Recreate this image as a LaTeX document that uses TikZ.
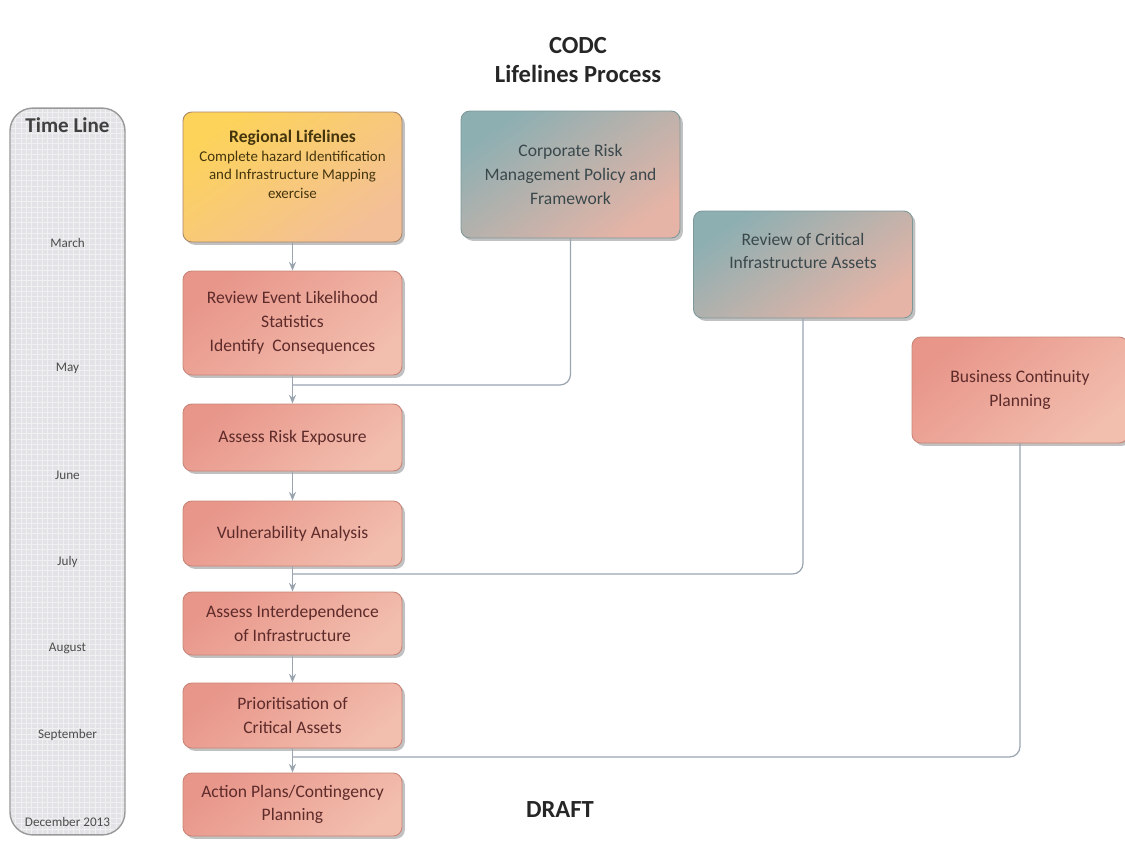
\documentclass[tikz,border=0pt]{standalone}
\usepackage{fontspec}
\setmainfont{Carlito}
\usepackage{tikz}
\usetikzlibrary{positioning, calc, arrows.meta, shadows, patterns}

\definecolor{yellowA}{HTML}{FDD35A}
\definecolor{yellowB}{HTML}{F3BF98}
\definecolor{redA}{HTML}{E8968A}
\definecolor{redB}{HTML}{F2BEAE}
\definecolor{redE}{HTML}{C98478}
\definecolor{tealA}{HTML}{8DAFB2}
\definecolor{tealB}{HTML}{E6B4A6}
\definecolor{tealE}{HTML}{7E9799}
\definecolor{textred}{HTML}{5E2B2B}
\definecolor{textteal}{HTML}{3A484C}
\definecolor{textyel}{HTML}{45360E}
\definecolor{linegray}{HTML}{9AA5B0}
\definecolor{tipblue}{HTML}{5A6B82}
\definecolor{tlfill}{HTML}{E3E3E7}

\tikzset{
  boxshadow/.style={drop shadow={shadow xshift=1.6pt, shadow yshift=-1.6pt, opacity=0.35, fill=black!70}},
  stepbox/.style={draw=redE, line width=0.5pt, rounded corners=5pt, boxshadow,
    top color=redA, bottom color=redB, shading angle=40,
    minimum width=4.38cm, minimum height=#1, align=center, text=textred,
    font=\fontsize{10}{13.5}\selectfont},
  stepbox/.default=1.3cm,
  policybox/.style={stepbox=#1, draw=tealE, top color=tealA, middle color=tealA!88!tealB,
    bottom color=tealB, shading angle=35, text=textteal},
  startbox/.style={stepbox=#1, draw=yellowB!70!black, top color=yellowA, bottom color=yellowB,
    shading angle=35, text=textyel}
}
\tikzset{
  flow/.style={draw=linegray, line width=0.7pt, -{Stealth[length=5pt, width=4pt, fill=tipblue]}},
  feed/.style={draw=linegray, line width=0.7pt, rounded corners=6pt},
  monthtext/.style={font=\fontsize{7.5}{9}\selectfont, text=black!70}
}

\begin{document}
\begin{tikzpicture}[x=0.02cm, y=-0.02cm]
  \useasboundingbox (0,0) rectangle (1125,850);
  % headings
  \node[align=center, font=\fontsize{14}{17}\selectfont\bfseries, text=black!85] (title) at (578,60) {CODC\\Lifelines Process};
  \node[font=\fontsize{14}{17}\selectfont\bfseries, text=black!85] (draft) at (560,810) {DRAFT};

  % time line column
  \node[draw=black!40, line width=0.8pt, rounded corners=13pt,
    preaction={fill=tlfill}, preaction={pattern=grid, pattern color=black!6},
    minimum width=2.3cm, minimum height=14.54cm] (timeline) at (67.5,471.5) {};
  \node[font=\fontsize{12}{14}\selectfont\bfseries, text=black!75] (tltitle) at (67.5,125) {Time Line};
  \foreach \y/\m [count=\i] in {243/March, 368/May, 475/June, 562/July, 648/August, 735/September, 822/December 2013}
    \node[monthtext] (month\i) at (67.5,\y) {\m};

  % main column
  \node[startbox=2.6cm, font=\fontsize{8.5}{10.5}\selectfont] (regional) at (292.5,177) {{\bfseries\fontsize{10}{12}\selectfont Regional Lifelines}\\
    Complete hazard Identification\\and Infrastructure Mapping\\exercise\\[4pt]};
  \node[stepbox=2.08cm] (review) at (292.5,323) {Review Event Likelihood\\Statistics\\Identify~ Consequences};
  \node[stepbox=1.34cm] (risk) at (292.5,437.5) {Assess Risk Exposure};
  \node[stepbox=1.3cm] (vuln) at (292.5,533.5) {Vulnerability Analysis};
  \node[stepbox=1.26cm] (interdep) at (292.5,623.5) {Assess Interdependence\\of Infrastructure};
  \node[stepbox=1.3cm] (prior) at (292.5,715.5) {Prioritisation of\\Critical Assets};
  \node[stepbox=1.26cm] (action) at (292.5,804.5) {Action Plans/Contingency\\Planning};

  % side inputs
  \node[policybox=2.54cm] (corp) at (570.5,174.5) {Corporate Risk\\Management Policy and\\Framework};
  \node[policybox=2.14cm] (crit) at (803,264.5) {Review of Critical\\Infrastructure Assets\\[2pt]};
  \node[stepbox=2.12cm, minimum width=4.32cm] (bcp) at (1020,390) {Business Continuity\\Planning};

  \foreach \a/\b in {regional/review, review/risk, risk/vuln, vuln/interdep, interdep/prior, prior/action}
    \draw[flow] (\a.south) -- (\b.north);

  \coordinate (j1) at (292.5,385);
  \coordinate (j2) at (292.5,574);
  \coordinate (j3) at (292.5,757);
  \draw[feed] (corp.south) |- (j1);
  \draw[feed] (crit.south) |- (j2);
  \draw[feed] (bcp.south) |- (j3);
\end{tikzpicture}
\end{document}
